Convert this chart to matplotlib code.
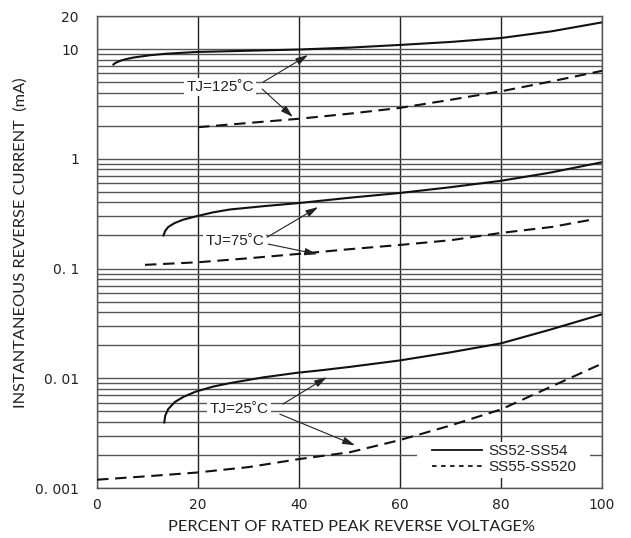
import matplotlib
matplotlib.use("Agg")
import matplotlib.pyplot as plt
from matplotlib.lines import Line2D
from matplotlib.patches import Rectangle

# ---- data ----
x_s125 = [3.1, 3.6, 4.55, 5.8, 7.1, 10.5, 13.8, 19.7, 30, 40, 50, 60, 70, 80, 90, 100]
y_s125 = [7.13, 7.45, 7.8, 8.1, 8.35, 8.78, 9.07, 9.4, 9.65, 9.9, 10.3, 10.9, 11.6, 12.6, 14.5, 17.5]

x_d125 = [20, 30, 40.2, 50.1, 59.8, 69.9, 80, 89.7, 100]
y_d125 = [1.94, 2.12, 2.32, 2.58, 2.9, 3.44, 4.12, 5.04, 6.33]

x_s75 = [13.1, 13.5, 14.1, 15.4, 17.1, 19.5, 23, 26.3, 33, 40, 50.1, 59.8, 69.9, 80, 89.7, 100]
y_s75 = [0.196, 0.22, 0.239, 0.26, 0.279, 0.298, 0.325, 0.345, 0.37, 0.395, 0.442, 0.487, 0.55, 0.63, 0.747, 0.93]

x_d75 = [9.5, 20, 30, 40, 50, 60, 70, 80, 90, 98.2]
y_d75 = [0.108, 0.114, 0.124, 0.136, 0.150, 0.164, 0.181, 0.211, 0.239, 0.28]

x_s25 = [13.3, 13.5, 14.1, 15.4, 17.1, 19.5, 23, 26.3, 33, 39.5, 44.2, 50.1, 59.8, 69.9, 80, 89.7, 100]
y_s25 = [0.00387, 0.00455, 0.00524, 0.00607, 0.00676, 0.00754, 0.0084, 0.00903, 0.0102, 0.0112, 0.0118,
         0.0127, 0.0145, 0.0172, 0.0208, 0.0277, 0.0383]

x_d25 = [0, 10, 19.5, 30, 40.2, 50.1, 59.8, 69.9, 80, 89.7, 100]
y_d25 = [0.00119, 0.00128, 0.00138, 0.00155, 0.00184, 0.00212, 0.00272, 0.0037, 0.0052, 0.0083, 0.0136]

x_ticks = [0, 20, 40, 60, 80, 100]
y_ticks = [0.001, 0.01, 0.1, 1, 10, 20]
y_tick_labels = ["0. 001", "0. 01", "0. 1", "1", "10", "20"]

series_names = ["SS52-SS54", "SS55-SS520"]

# annotation: (label, text position, [(tail, head), ...])
annotations = [
    ("TJ=125˚C", (24.4, 4.5), [((32.9, 5.0), (41.8, 8.82)), ((32.7, 4.32), (38.8, 2.40))]),
    ("TJ=75˚C", (27.3, 0.178), [((33.7, 0.193), (43.8, 0.363)), ((33.9, 0.167), (43.6, 0.135))]),
    ("TJ=25˚C", (28.1, 0.00523), [((36.8, 0.00581), (45.5, 0.01023)), ((36.2, 0.00471), (51.1, 0.00245))]),
]

# ---- figure ----
W, H = 631, 538
fig = plt.figure(figsize=(W / 100, H / 100), dpi=100)
ax = fig.add_axes([97 / W, 1 - 488 / H, (602 - 97) / W, (488 - 16) / H])
ax.set_yscale("log")
ax.set_xlim(0, 100)
ax.set_ylim(0.001, 20)

line_col = "#111111"
lw = 1.5
dash = (0, (5.5, 3.2))
for xs, ys, ls in [(x_s125, y_s125, "-"), (x_d125, y_d125, dash),
                   (x_s75, y_s75, "-"), (x_d75, y_d75, dash),
                   (x_s25, y_s25, "-"), (x_d25, y_d25, dash)]:
    ax.plot(xs, ys, color=line_col, lw=lw, ls=ls, zorder=4,
            solid_capstyle="butt", solid_joinstyle="round")

# ticks & grid
ax.set_xticks(x_ticks)
ax.set_yticks(y_ticks)
ax.set_yticklabels(y_tick_labels)
minor_y = [k * 10.0 ** e for e in range(-3, 1) for k in range(2, 10)]
ax.set_yticks(minor_y, minor=True)
ax.yaxis.set_minor_formatter(matplotlib.ticker.NullFormatter())
ax.tick_params(axis="both", which="both", length=0)
ax.tick_params(axis="y", pad=13)
ax.tick_params(axis="x", pad=7)
for lab in ax.get_xticklabels() + ax.get_yticklabels():
    lab.set_fontfamily("DejaVu Sans")
    lab.set_fontsize(10)
    lab.set_color("#222222")

ax.grid(axis="y", which="both", color="#555555", lw=1.0)
ax.grid(axis="x", which="major", color="#222222", lw=1.0)
ax.set_axisbelow(True)
for sp in ax.spines.values():
    sp.set_color("#555555")
    sp.set_linewidth(1.0)

# annotations
for label, tpos, arrows in annotations:
    ax.text(tpos[0], tpos[1], label, ha="center", va="center", fontsize=11,
            family="Liberation Sans", color="#222222", zorder=5,
            bbox=dict(facecolor="white", edgecolor="none", pad=1.5))
    for tail, head in arrows:
        ax.annotate("", xy=head, xytext=tail, zorder=6,
                    arrowprops=dict(arrowstyle="-|>,head_length=0.75,head_width=0.22",
                                    color="#222222", lw=0.8, shrinkA=0, shrinkB=0))

# legend (white backing box + frameless legend)
ax.add_patch(Rectangle(((417 - 97) / 505, (488 - 478) / 472), (590 - 417) / 505, 36 / 472,
                       transform=ax.transAxes, facecolor="white", edgecolor="none", zorder=3))
handles = [Line2D([], [], color=line_col, lw=1.3),
           Line2D([], [], color=line_col, lw=1.3, ls=(0, (2.5, 2.5)))]
leg = ax.legend(handles, series_names, loc="center left",
                bbox_to_anchor=(432 / W, 1 - 459 / H), bbox_transform=fig.transFigure,
                frameon=False, prop={"family": "Liberation Sans", "size": 11},
                handlelength=3.3, handletextpad=0.4, labelspacing=0.15,
                borderpad=0, borderaxespad=0)
for t in leg.get_texts():
    t.set_color("#222222")
leg.set_zorder(7)

# axis labels
fig.text(21 / W, 1 - 243 / H, "INSTANTANEOUS REVERSE CURRENT  (mA)", rotation=90,
         ha="center", va="center", fontsize=11.8, family="Lato", color="#222222")
fig.text(351 / W, 1 - 527 / H, "PERCENT OF RATED PEAK REVERSE VOLTAGE%",
         ha="center", va="center", fontsize=11.8, family="Lato", color="#222222")

fig.savefig("out.png", dpi=100, facecolor="white")
